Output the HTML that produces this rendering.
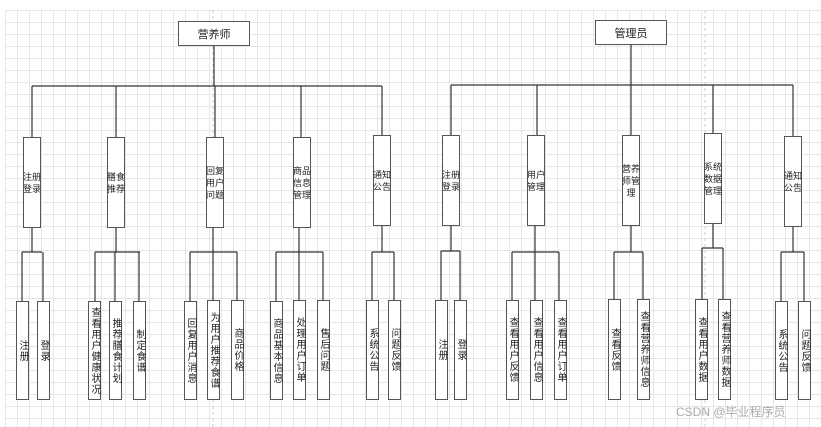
<!DOCTYPE html>
<html><head><meta charset="utf-8"><style>
body{margin:0;width:821px;height:427px;overflow:hidden;background:#fff;position:relative;font-family:"Liberation Sans","Noto Sans CJK SC",sans-serif;}
#grid{position:absolute;left:5px;top:10px;width:816px;height:417px;
background-image:linear-gradient(#e6e6e6 1px,transparent 1px),linear-gradient(90deg,#e6e6e6 1px,transparent 1px);
background-size:12px 12px;}
.b{position:absolute;border:1.5px solid #555;background:#fff;box-sizing:border-box;display:flex;align-items:center;justify-content:center;color:#222;overflow:visible;white-space:nowrap;}
.r{font-size:11px;}
.m{font-size:9px;line-height:12px;text-align:center;}
.c{font-size:10px;writing-mode:vertical-rl;letter-spacing:1px;line-height:11px;}
svg{position:absolute;left:0;top:0;}
.wm{position:absolute;left:676px;top:403px;font-size:12px;color:#aaa;}
</style></head><body>
<div id="grid"></div>
<svg width="821" height="427">
<g stroke="#ccc" stroke-dasharray="3,3"><line x1="213" y1="10" x2="213" y2="427"/><line x1="705" y1="10" x2="705" y2="427"/></g>
<g stroke="#333" stroke-width="1.2" fill="none">
<line x1="214" y1="46" x2="214" y2="86"/>
<line x1="32" y1="86" x2="382" y2="86"/>
<line x1="32" y1="86" x2="32" y2="137"/><line x1="116" y1="86" x2="116" y2="137"/><line x1="215" y1="86" x2="215" y2="137"/><line x1="301" y1="86" x2="301" y2="137"/><line x1="382" y1="86" x2="382" y2="135"/>
<line x1="631" y1="44" x2="631" y2="85"/>
<line x1="451" y1="85" x2="793" y2="85"/>
<line x1="451" y1="85" x2="451" y2="135"/><line x1="537" y1="85" x2="537" y2="135"/><line x1="631" y1="85" x2="631" y2="135"/><line x1="713" y1="85" x2="713" y2="133"/><line x1="793" y1="85" x2="793" y2="136"/>
<line x1="32" y1="228" x2="32" y2="252"/><line x1="22" y1="252" x2="42" y2="252"/><line x1="22" y1="252" x2="22" y2="301"/><line x1="43" y1="252" x2="43" y2="301"/>
<line x1="116" y1="228" x2="116" y2="252"/><line x1="95" y1="252" x2="140" y2="252"/><line x1="95" y1="252" x2="95" y2="301"/><line x1="115" y1="252" x2="115" y2="301"/><line x1="139" y1="252" x2="139" y2="301"/>
<line x1="213" y1="228" x2="213" y2="300"/><line x1="190" y1="252" x2="237" y2="252"/><line x1="190" y1="252" x2="190" y2="301"/><line x1="237" y1="252" x2="237" y2="301"/>
<line x1="299" y1="228" x2="299" y2="300"/><line x1="276" y1="252" x2="323" y2="252"/><line x1="276" y1="252" x2="276" y2="301"/><line x1="323" y1="252" x2="323" y2="301"/>
<line x1="382" y1="226" x2="382" y2="252"/><line x1="372" y1="252" x2="394" y2="252"/><line x1="372" y1="252" x2="372" y2="301"/><line x1="394" y1="252" x2="394" y2="301"/>
<line x1="451" y1="226" x2="451" y2="251"/><line x1="441" y1="251" x2="460" y2="251"/><line x1="441" y1="251" x2="441" y2="300"/><line x1="460" y1="251" x2="460" y2="300"/>
<line x1="535" y1="226" x2="535" y2="300"/><line x1="512" y1="252" x2="559" y2="252"/><line x1="512" y1="252" x2="512" y2="300"/><line x1="559" y1="252" x2="559" y2="300"/>
<line x1="631" y1="226" x2="631" y2="252"/><line x1="614" y1="252" x2="643" y2="252"/><line x1="614" y1="252" x2="614" y2="299"/><line x1="643" y1="252" x2="643" y2="299"/>
<line x1="713" y1="224" x2="713" y2="248"/><line x1="702" y1="248" x2="723" y2="248"/><line x1="702" y1="248" x2="702" y2="299"/><line x1="723" y1="248" x2="723" y2="299"/>
<line x1="793" y1="227" x2="793" y2="252"/><line x1="781" y1="252" x2="804" y2="252"/><line x1="781" y1="252" x2="781" y2="301"/><line x1="804" y1="252" x2="804" y2="301"/>
</g></svg>

<div class="b r" style="left:178px;top:21px;width:72px;height:25px">营养师</div>
<div class="b r" style="left:595px;top:20px;width:72px;height:25px">管理员</div>

<div class="b m" style="left:23px;top:137px;width:18px;height:91px">注册<br>登录</div>
<div class="b m" style="left:107px;top:137px;width:18px;height:91px">膳食<br>推荐</div>
<div class="b m" style="left:206px;top:137px;width:18px;height:91px">回复<br>用户<br>问题</div>
<div class="b m" style="left:293px;top:137px;width:18px;height:91px">商品<br>信息<br>管理</div>
<div class="b m" style="left:373px;top:135px;width:18px;height:91px">通知<br>公告</div>
<div class="b m" style="left:442px;top:135px;width:18px;height:91px">注册<br>登录</div>
<div class="b m" style="left:527px;top:135px;width:18px;height:91px">用户<br>管理</div>
<div class="b m" style="left:622px;top:135px;width:18px;height:91px">营养<br>师管<br>理</div>
<div class="b m" style="left:704px;top:133px;width:18px;height:91px">系统<br>数据<br>管理</div>
<div class="b m" style="left:784px;top:136px;width:18px;height:91px">通知<br>公告</div>

<div class="b c" style="left:16px;top:301px;width:13px;height:99px">注册</div>
<div class="b c" style="left:37px;top:301px;width:13px;height:99px">登录</div>
<div class="b c" style="left:88px;top:301px;width:13px;height:99px">查看用户健康状况</div>
<div class="b c" style="left:109px;top:301px;width:13px;height:99px">推荐膳食计划</div>
<div class="b c" style="left:133px;top:301px;width:13px;height:99px">制定食谱</div>
<div class="b c" style="left:184px;top:301px;width:13px;height:99px">回复用户消息</div>
<div class="b c" style="left:207px;top:300px;width:13px;height:100px">为用户推荐食谱</div>
<div class="b c" style="left:231px;top:300px;width:13px;height:100px">商品价格</div>
<div class="b c" style="left:270px;top:301px;width:13px;height:99px">商品基本信息</div>
<div class="b c" style="left:293px;top:300px;width:13px;height:100px">处理用户订单</div>
<div class="b c" style="left:317px;top:300px;width:13px;height:100px">售后问题</div>
<div class="b c" style="left:366px;top:300px;width:13px;height:100px">系统公告</div>
<div class="b c" style="left:388px;top:300px;width:13px;height:100px">问题反馈</div>

<div class="b c" style="left:435px;top:300px;width:13px;height:100px">注册</div>
<div class="b c" style="left:454px;top:300px;width:13px;height:100px">登录</div>
<div class="b c" style="left:506px;top:300px;width:13px;height:100px">查看用户反馈</div>
<div class="b c" style="left:530px;top:300px;width:13px;height:100px">查看用户信息</div>
<div class="b c" style="left:554px;top:300px;width:13px;height:100px">查看用户订单</div>
<div class="b c" style="left:608px;top:299px;width:13px;height:101px">查看反馈</div>
<div class="b c" style="left:637px;top:299px;width:13px;height:101px">查看营养师信息</div>
<div class="b c" style="left:695px;top:299px;width:13px;height:101px">查看用户数据</div>
<div class="b c" style="left:718px;top:299px;width:13px;height:101px">查看营养师数据</div>
<div class="b c" style="left:775px;top:301px;width:13px;height:99px">系统公告</div>
<div class="b c" style="left:798px;top:301px;width:13px;height:99px">问题反馈</div>

<div class="wm">CSDN @毕业程序员</div>
</body></html>
